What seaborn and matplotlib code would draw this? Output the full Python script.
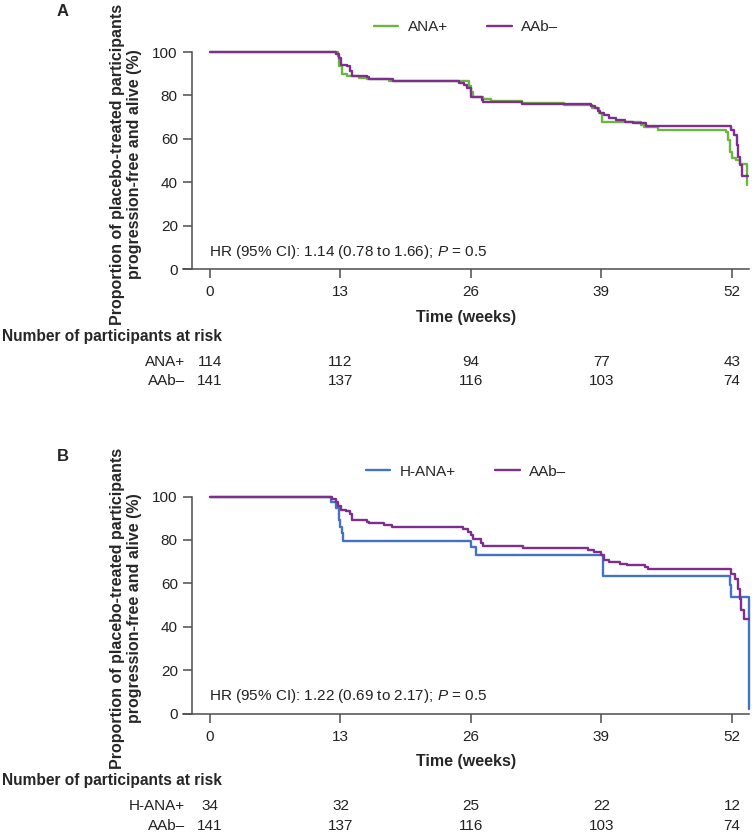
import numpy as np
import pandas as pd
import matplotlib.pyplot as plt
import seaborn as sns
from matplotlib.transforms import blended_transform_factory

# Kaplan-Meier steps (weeks, % progression-free and alive)
a_ana_weeks = [0, 12.8, 12.9, 13.2, 13.6, 14.8, 15.6, 17.8, 25.5, 25.8, 26.0, 26.2, 27.2, 28.0,
               31.1, 35.3, 38.1, 38.8, 39.1, 42.9, 43.2, 44.6, 51.4, 51.6, 51.8, 52.0, 52.4,
               52.8, 53.55]
a_ana_pct = [100, 98.0, 93.4, 90.0, 88.8, 88.2, 87.7, 86.8, 86.6, 84.5, 81.8, 79.5, 78.5, 77.6,
             76.5, 75.6, 74.2, 71.9, 67.6, 66.5, 65.4, 64.2, 63.1, 59.6, 54.2, 51.3, 50.4,
             48.4, 38.8]

a_aab_weeks = [0, 12.6, 12.9, 13.1, 13.6, 13.9, 14.1, 15.6, 15.8, 18.2, 24.8, 25.3, 25.6, 26.0,
               26.5, 27.1, 27.2, 31.1, 38.0, 38.4, 38.7, 38.9, 39.3, 39.8, 40.4, 41.3, 42.1,
               43.4, 51.9, 52.2, 52.5, 52.6, 52.8, 53.0, 53.6]
a_aab_pct = [100, 99.1, 97.2, 94.1, 93.4, 91.4, 89.0, 88.6, 87.7, 86.8, 85.7, 84.6, 83.4, 79.5,
             79.1, 78.0, 76.9, 76.2, 75.2, 74.2, 73.0, 71.9, 70.8, 69.6, 68.8, 68.0, 67.3,
             66.0, 64.2, 61.9, 57.2, 51.9, 48.1, 43.0, 43.0]

b_hana_weeks = [0, 12.1, 12.6, 12.9, 13.0, 13.2, 13.3, 26.0, 26.5, 39.2, 51.8, 51.9, 53.7]
b_hana_pct = [100, 97.6, 94.5, 89.1, 86.1, 83.0, 79.6, 76.8, 73.3, 63.4, 59.1, 53.7, 2.0]

b_aab_weeks = [0, 12.2, 12.6, 12.8, 13.1, 13.5, 13.9, 14.1, 15.6, 15.8, 17.3, 18.1, 25.2, 25.7,
               26.0, 26.2, 27.0, 27.2, 31.2, 37.7, 38.3, 39.0, 39.3, 39.8, 40.8, 41.5, 43.3,
               43.6, 51.9, 52.3, 52.6, 52.8, 52.9, 53.2, 53.7]
b_aab_pct = [100, 98.7, 97.6, 95.6, 93.8, 93.3, 91.9, 89.1, 88.4, 87.6, 86.8, 86.1, 85.0, 83.7,
             82.2, 80.4, 78.8, 77.3, 76.4, 75.6, 74.5, 73.0, 71.0, 69.9, 69.1, 68.4, 67.6,
             66.5, 64.5, 62.2, 57.6, 53.0, 47.9, 43.7, 43.7]

risk_weeks = [0, 13, 26, 39, 52]
a_ana_risk = [114, 112, 94, 77, 43]
a_aab_risk = [141, 137, 116, 103, 74]
b_hana_risk = [34, 32, 25, 22, 12]
b_aab_risk = [141, 137, 116, 103, 74]

green = '#6BB640'
purple = '#7E2F8E'
blue = '#4472C4'

sns.set_style('ticks')
plt.rcParams['font.family'] = ['Liberation Sans', 'DejaVu Sans']
plt.rcParams['mathtext.fontset'] = 'custom'
plt.rcParams['mathtext.rm'] = 'Liberation Sans'
plt.rcParams['mathtext.it'] = 'Liberation Sans:italic'

W, H = 752, 833
fig = plt.figure(figsize=(W / 100, H / 100), dpi=100)
axis_col = '#4d4d4d'
txt_col = '#222222'
fs = 11


def px(x, y):
    return x / W, 1 - y / H


def panel(top_px, letter, groups, hr_text, risk_rows):
    # top_px: pixel y of the 100% line
    bottom_px = top_px + 217.3
    left_px, right_px = 183, 749
    ax = fig.add_axes([left_px / W, 1 - bottom_px / H, (right_px - left_px) / W, 217.3 / H])

    frames = []
    for name, wk, pc, col in groups:
        frames.append(pd.DataFrame({'week': wk, 'pct': pc, 'group': name}))
    df = pd.concat(frames, ignore_index=True)
    sns.lineplot(data=df, x='week', y='pct', hue='group',
                 palette={g[0]: g[3] for g in groups}, hue_order=[g[0] for g in groups],
                 estimator=None, sort=False, drawstyle='steps-post', lw=1.7, ax=ax)
    for ln in ax.lines:
        ln.set_clip_on(False)

    ax.set_xlim(-2.69, 53.7)
    ax.set_ylim(0, 100)
    ax.spines['left'].set_position(('data', -1.76))
    ax.spines['left'].set_bounds(0, 100)
    for s in ['top', 'right']:
        ax.spines[s].set_visible(False)
    for s in ['left', 'bottom']:
        ax.spines[s].set_color(axis_col)
        ax.spines[s].set_linewidth(1.1)
    ax.set_xticks(risk_weeks)
    ax.set_yticks(range(0, 101, 20))
    ax.tick_params(direction='out', length=6.5, width=1.1, color=axis_col,
                   labelsize=fs, labelcolor=txt_col)
    ax.tick_params(axis='y', pad=4)
    ax.tick_params(axis='x', pad=5)

    ax.set_xlabel('Time (weeks)', fontsize=11.5, fontweight='bold')
    ax.xaxis.set_label_coords(0.5, -(48 / 217.3))
    ax.xaxis.label.set_va('center')
    ax.set_ylabel('')

    ax.text(-0.1, 8, hr_text, fontsize=fs, va='center', ha='left', color=txt_col)

    ax.legend(loc='center', bbox_to_anchor=(0.5, 1.115), ncol=2, frameon=False,
              handlelength=1.6, handletextpad=0.6, columnspacing=2.6, fontsize=fs)

    fig.text(*px(57, top_px - 40), letter, fontsize=12, fontweight='bold', ha='left', va='center')
    fig.text(*px(126, top_px + 112), 'Proportion of placebo-treated participants\n'
             'progression-free and alive (%)', rotation=90, ha='center', va='center',
             multialignment='center', fontsize=11.5, fontweight='bold', linespacing=1.1)

    fig.text(*px(2, top_px + 284), 'Number of participants at risk', fontsize=11.2,
             fontweight='bold', ha='left', va='center')
    tr = blended_transform_factory(ax.transData, fig.transFigure)
    for i, (lab, vals) in enumerate(risk_rows):
        ry = 1 - (top_px + 310 + 19 * i) / H
        fig.text(185 / W, ry, lab, fontsize=fs, ha='right', va='center', color=txt_col)
        for wk, v in zip(risk_weeks, vals):
            ax.text(wk, ry, str(v), transform=tr, fontsize=fs, ha='center', va='center',
                    color=txt_col)
    return ax


panel(52, 'A',
      [('ANA+', a_ana_weeks, a_ana_pct, green), ('AAb–', a_aab_weeks, a_aab_pct, purple)],
      r'HR (95% CI): 1.14 (0.78 to 1.66); $\it{P}$ = 0.5',
      [('ANA+', a_ana_risk), ('AAb–', a_aab_risk)])
panel(496.5, 'B',
      [('H-ANA+', b_hana_weeks, b_hana_pct, blue), ('AAb–', b_aab_weeks, b_aab_pct, purple)],
      r'HR (95% CI): 1.22 (0.69 to 2.17); $\it{P}$ = 0.5',
      [('H-ANA+', b_hana_risk), ('AAb–', b_aab_risk)])

fig.savefig('out.png', dpi=100)
